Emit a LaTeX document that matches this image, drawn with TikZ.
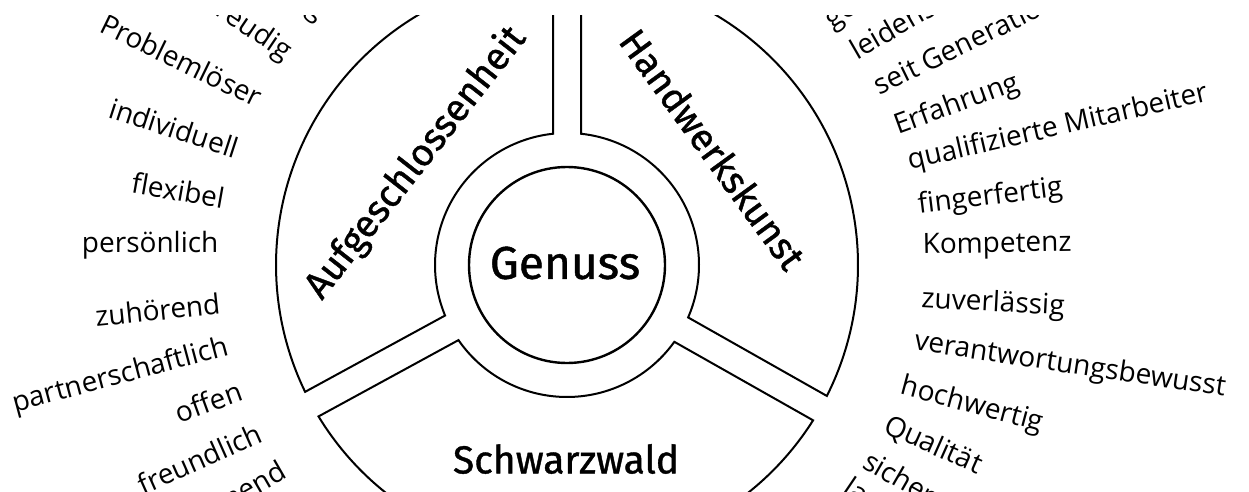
\documentclass[tikz,border=0pt]{standalone}
\usepackage{fontspec}
\setmainfont{Open Sans}
\newfontfamily\dinfont[FakeBold=1]{Fira Sans}
\usetikzlibrary{calc}
\begin{document}
\begin{tikzpicture}[x=1pt,y=1pt,
  sector/.style={draw=black, line width=2pt, line join=miter},
  core/.style={draw=black, line width=2.4pt},
  biglabel/.style={font=\dinfont\fontsize{39}{43}\selectfont, inner sep=0pt},
  tiltlabel/.style={font=\dinfont\fontsize{38}{42}\selectfont, inner sep=0pt},
  centrelabel/.style={font=\dinfont\fontsize{46}{50}\selectfont, inner sep=0pt},
  wordL/.style={anchor=east, font=\fontsize{28}{32}\selectfont, inner sep=0pt},
  wordR/.style={anchor=west, font=\fontsize{28}{32}\selectfont, inner sep=0pt}]
\useasboundingbox (0,0) rectangle (1249,491);
\coordinate (C) at (567,226);
\pgfmathsetmacro\R{291}
\pgfmathsetmacro\ri{132}
\pgfmathsetmacro\aR{asin(14/291)}
\pgfmathsetmacro\ar{asin(14/132)}
\def\gA{90}
\def\gB{208.6}
\def\gC{330.5}
\def\rL{349}
\def\rR{356}
\begin{scope}
\clip (0,0) rectangle (1249,475);
% sectors
\draw[sector] ($(C)+(\gA+\aR:\R)$) arc[start angle=\gA+\aR, end angle=\gB-\aR, radius=\R]
  -- ($(C)+(\gB-\ar:\ri)$) arc[start angle=\gB-\ar, end angle=\gA+\ar, radius=\ri] -- cycle;
\draw[sector] ($(C)+(\gC-360+\aR:\R)$) arc[start angle=\gC-360+\aR, end angle=\gA-\aR, radius=\R]
  -- ($(C)+(\gA-\ar:\ri)$) arc[start angle=\gA-\ar, end angle=\gC-360+\ar, radius=\ri] -- cycle;
\draw[sector] ($(C)+(\gB+\aR:\R)$) arc[start angle=\gB+\aR, end angle=\gC-\aR, radius=\R]
  -- ($(C)+(\gC-\ar:\ri)$) arc[start angle=\gC-\ar, end angle=\gB+\ar, radius=\ri] -- cycle;
\draw[core] (C) circle[radius=98];
% labels
\node[centrelabel] (genuss) at (565,228) {Genuss};
\node[biglabel] (schwarz) at (566,32) {Schwarzwald};
\node[tiltlabel, rotate=52] (auf) at (416,328) {Aufgeschlossenheit};
\node[tiltlabel, rotate=-54] (hand) at (713,342) {Handwerkskunst};
% left words
\node[wordL, rotate=-42] (l1) at ($(C)+(134.5:\rL)$) {lebendig};
\node[wordL, rotate=-34] (l2) at ($(C)+(143:\rL)$) {freudig};
\node[wordL, rotate=-26] (l3) at ($(C)+(151.5:\rL)$) {Problemlöser};
\node[wordL, rotate=-18] (l4) at ($(C)+(160.5:\rL)$) {individuell};
\node[wordL, rotate=-10] (l5) at ($(C)+(169:\rL)$) {flexibel};
\node[wordL, rotate=0] (l6) at ($(C)+(176.7:\rL)$) {persönlich};
\node[wordL, rotate=6] (l7) at ($(C)+(186.3:\rL)$) {zuhörend};
\node[wordL, rotate=15] (l8) at ($(C)+(193.7:\rL)$) {partnerschaftlich};
\node[wordL, rotate=20] (l9) at ($(C)+(201:\rL)$) {offen};
\node[wordL, rotate=24] (l10) at ($(C)+(208.5:\rL)$) {freundlich};
\node[wordL, rotate=30] (l11) at ($(C)+(215.5:\rL)$) {zuvorkommend};
% right words
\node[wordR, rotate=34] (r1) at ($(C)+(42.7:\rR)$) {gewissenhaft};
\node[wordR, rotate=30] (r2) at ($(C)+(36.9:\rR)$) {leidenschaftlich};
\node[wordR, rotate=26] (r3) at ($(C)+(30.1:\rR)$) {seit Generationen};
\node[wordR, rotate=20] (r4) at ($(C)+(22.7:\rR)$) {Erfahrung};
\node[wordR, rotate=13] (r5) at ($(C)+(16.7:\rR)$) {qualifizierte Mitarbeiter};
\node[wordR, rotate=7] (r6) at ($(C)+(9.5:\rR)$) {fingerfertig};
\node[wordR, rotate=1] (r7) at ($(C)+(2.9:\rR)$) {Kompetenz};
\node[wordR, rotate=-3] (r8) at ($(C)+(-5.7:\rR)$) {zuverlässig};
\node[wordR, rotate=-8.5] (r9) at ($(C)+(-12.6:\rR)$) {verantwortungsbewusst};
\node[wordR, rotate=-15] (r10) at ($(C)+(-20:\rR)$) {hochwertig};
\node[wordR, rotate=-24] (r11) at ($(C)+(-26.6:\rR)$) {Qualität};
\node[wordR, rotate=-30] (r12) at ($(C)+(-32.8:\rR)$) {sicher};
\node[wordR, rotate=-34] (r13) at ($(C)+(-38.5:\rR)$) {langlebig};
\end{scope}
\end{tikzpicture}
\end{document}
